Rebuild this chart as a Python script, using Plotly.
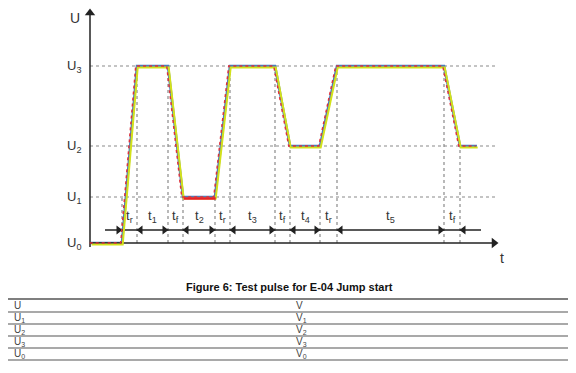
import plotly.graph_objects as go

# ---------------- data ----------------
U0, U1, U2, U3 = 0, 46, 97, 177
level_names = ["U<sub>0</sub>", "U<sub>1</sub>", "U<sub>2</sub>", "U<sub>3</sub>"]
level_values = [U0, U1, U2, U3]

t_points = [1, 32, 47, 78, 93, 125, 140, 185, 200, 230, 247, 354, 370, 387]
signal = [U0, U0, U3, U3, U1, U1, U3, U3, U2, U2, U3, U3, U2, U2]

segment_labels = ["t<sub>r</sub>", "t<sub>1</sub>", "t<sub>f</sub>", "t<sub>2</sub>",
                  "t<sub>r</sub>", "t<sub>3</sub>", "t<sub>f</sub>", "t<sub>4</sub>",
                  "t<sub>r</sub>", "t<sub>5</sub>", "t<sub>f</sub>"]

caption = "<b>Figure 6: Test pulse for E-04 Jump start</b>"
table_col1 = ["U", "U<sub>1</sub>", "U<sub>2</sub>", "U<sub>3</sub>", "U<sub>0</sub>"]
table_col2 = ["V", "V<sub>1</sub>", "V<sub>2</sub>", "V<sub>3</sub>", "V<sub>0</sub>"]

# ---------------- layout constants ----------------
FONT = "Liberation Sans, Arial, sans-serif"
TXT = "#333333"
T_END = 408          # end of dotted level lines
T_AXIS_END = 401
DIM_Y = 13           # level of the dimension arrow row
LABEL_Y = 27

# page body has an 8px margin: figure is sized/ranged to compensate
W, H = 568, 365
X0 = -82             # t value at left edge of figure
Y_TOP = 235          # U value at top edge of figure

boundaries = t_points[1:-1]
starts = boundaries[0::2]
ends = boundaries[1::2]

fig = go.Figure()

# horizontal dotted level guides
hx, hy = [], []
for v in level_values[1:]:
    hx += [0, T_END, None]
    hy += [v, v, None]
fig.add_trace(go.Scatter(x=hx, y=hy, mode="lines",
                         line=dict(color="#8a8a8a", width=1.2, dash="dot"),
                         hoverinfo="skip"))

# vertical dotted guides
vx, vy = [], []
for b in boundaries:
    top = max(signal[t_points.index(b)], U1)
    vx += [b, b, None]
    vy += [U0, top, None]
fig.add_trace(go.Scatter(x=vx, y=vy, mode="lines",
                         line=dict(color="#8a8a8a", width=1.2, dash="dot"),
                         hoverinfo="skip"))

# signal: coloured under-traces on slightly shifted overlay axes, blue on top
fig.add_trace(go.Scatter(x=t_points, y=signal, mode="lines", xaxis="x2", yaxis="y2",
                         line=dict(color="#d4e21a", width=2), hoverinfo="skip"))
fig.add_trace(go.Scatter(x=t_points, y=signal, mode="lines", xaxis="x3", yaxis="y3",
                         line=dict(color="#e0303a", width=1.4, dash="dot"), hoverinfo="skip"))
fig.add_trace(go.Scatter(x=t_points[4:6], y=signal[4:6], mode="lines", xaxis="x2", yaxis="y2",
                         line=dict(color="#e8202a", width=2.6), hoverinfo="skip"))
fig.add_trace(go.Scatter(x=t_points, y=signal, mode="lines",
                         line=dict(color="#4a7ebb", width=2.6), hoverinfo="skip"))

# axes (U and t)
AX = "#222222"
fig.add_trace(go.Scatter(x=[0, 0, None, 0, T_AXIS_END + 2], y=[-4, 228, None, U0, U0],
                         mode="lines", line=dict(color=AX, width=1.5), hoverinfo="skip"))
fig.add_trace(go.Scatter(x=[0], y=[230], mode="markers",
                         marker=dict(symbol="triangle-up", size=9, color=AX), hoverinfo="skip"))
fig.add_trace(go.Scatter(x=[T_AXIS_END + 3], y=[U0], mode="markers",
                         marker=dict(symbol="triangle-right", size=9, color=AX), hoverinfo="skip"))

# dimension row
fig.add_trace(go.Scatter(x=[15, T_AXIS_END - 10], y=[DIM_Y, DIM_Y], mode="lines",
                         line=dict(color=AX, width=1.5), hoverinfo="skip"))
fig.add_trace(go.Scatter(x=[s - 3.5 for s in starts], y=[DIM_Y] * len(starts), mode="markers",
                         marker=dict(symbol="triangle-right", size=8, color=AX), hoverinfo="skip"))
fig.add_trace(go.Scatter(x=[e + 3.5 for e in ends], y=[DIM_Y] * len(ends), mode="markers",
                         marker=dict(symbol="triangle-left", size=8, color=AX), hoverinfo="skip"))

annotations = []
# segment labels
for i, lab in enumerate(segment_labels):
    annotations.append(dict(x=(boundaries[i] + boundaries[i + 1]) / 2, y=LABEL_Y, text=lab,
                            showarrow=False, font=dict(family=FONT, size=13, color=TXT)))
# level labels
for name, v in zip(level_names, level_values):
    annotations.append(dict(x=-7, y=v, text=name, xanchor="right", showarrow=False,
                            font=dict(family=FONT, size=13, color=TXT)))
annotations.append(dict(x=-8, y=Y_TOP, text="U", xanchor="right", yanchor="top",
                        showarrow=False, font=dict(family=FONT, size=14, color=TXT)))
annotations.append(dict(x=412, y=-15, text="t", showarrow=False,
                        font=dict(family=FONT, size=14, color=TXT)))
# caption
annotations.append(dict(x=199, y=-44, text=caption, showarrow=False,
                        font=dict(family=FONT, size=11, color="#111111")))

# table
line_ys = [-56, -69, -81, -93, -105, -117]
shapes = []
for k, ly in enumerate(line_ys):
    shapes.append(dict(type="line", xref="x", yref="y", x0=-82, x1=480, y0=ly, y1=ly,
                       line=dict(color="#555555" if k == 0 else "#8c8c8c", width=1.4)))
for k, (c1, c2) in enumerate(zip(table_col1, table_col2)):
    yc = (line_ys[k] + line_ys[k + 1]) / 2
    annotations.append(dict(x=-78, y=yc, text=c1, xanchor="left", showarrow=False,
                            font=dict(family=FONT, size=10, color="#444444")))
    annotations.append(dict(x=204, y=yc, text=c2, xanchor="left", showarrow=False,
                            font=dict(family=FONT, size=10, color="#444444")))

ax_common = dict(visible=False, showgrid=False, zeroline=False, fixedrange=True)
fig.update_layout(
    width=W, height=H,
    margin=dict(l=0, r=0, t=0, b=0, autoexpand=False),
    plot_bgcolor="white", paper_bgcolor="white",
    showlegend=False,
    xaxis=dict(range=[X0, X0 + W], **ax_common),
    yaxis=dict(range=[Y_TOP - H, Y_TOP], **ax_common),
    xaxis2=dict(range=[X0 - 0.7, X0 + W - 0.7], overlaying="x", **ax_common),
    yaxis2=dict(range=[Y_TOP - H + 1.5, Y_TOP + 1.5], overlaying="y", **ax_common),
    xaxis3=dict(range=[X0 + 1.3, X0 + W + 1.3], overlaying="x", **ax_common),
    yaxis3=dict(range=[Y_TOP - H, Y_TOP], overlaying="y", **ax_common),
    annotations=annotations,
    shapes=shapes,
)

fig.write_html("out.html")
